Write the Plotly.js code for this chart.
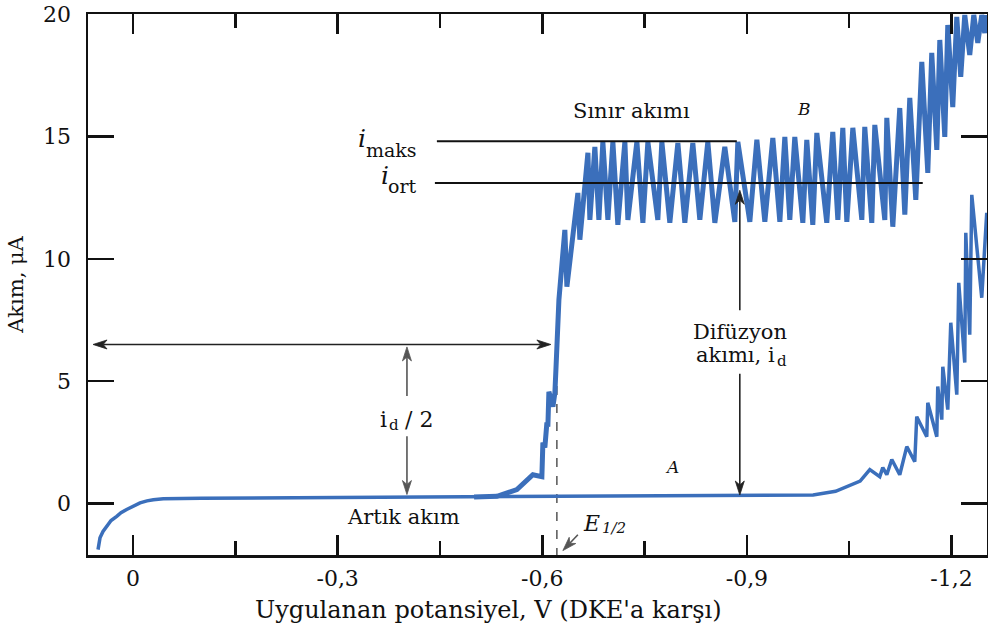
<!DOCTYPE html>
<html>
<head>
<meta charset="utf-8">
<script src="https://cdn.plot.ly/plotly-3.0.1.min.js"></script>
<style>html,body{margin:0;padding:0;background:#fff;}#chart{width:988px;height:636px;}</style>
</head>
<body>
<div id="chart"></div>
<script>
// Curve A: residual current (supporting electrolyte only)
const potA = [0.0513, 0.0503, 0.0484, 0.0440, 0.0386, 0.0322, 0.0239, 0.0176, 0.0093, 0, -0.0103, -0.0205, -0.0298, -0.0444,
  -0.1, -0.3, -0.5, -0.7, -0.9, -0.997, -1.03, -1.066,
  -1.0802, -1.0948, -1.0992, -1.1051, -1.1124, -1.1241, -1.1344, -1.1461, -1.1490, -1.1637, -1.1652, -1.1784, -1.1798, -1.1857, -1.1872,
  -1.1945, -1.1989, -1.2077, -1.2106, -1.2194, -1.2209, -1.2267, -1.2297, -1.2443, -1.2516];
const currA = [-1.88, -1.67, -1.40, -1.14, -0.93, -0.69, -0.52, -0.37, -0.24, -0.10, 0.03, 0.11, 0.16, 0.20,
  0.22, 0.25, 0.27, 0.3, 0.32, 0.35, 0.5, 0.92,
  1.39, 1.10, 1.47, 1.18, 1.80, 1.18, 2.33, 1.71, 3.55, 2.73, 4.12, 2.73, 4.78, 3.43, 5.59,
  3.84, 7.39, 4.45, 9.02, 5.76, 11.06, 6.90, 12.61, 8.41, 11.88];

// Curve B: polarographic wave with analyte
const potB = [-0.50, -0.5335, -0.5628, -0.5862, -0.5994, -0.6009, -0.6038, -0.6068, -0.6082, -0.6097,
  -0.6156, -0.6185, -0.6200, -0.6214, -0.6244, -0.6331, -0.6361, -0.6522, -0.6551, -0.6669,
  -0.6698, -0.6771, -0.6830, -0.6888, -0.6962, -0.7035, -0.7108, -0.7211, -0.7255, -0.7387,
  -0.7475, -0.7548, -0.7694, -0.7753, -0.7870, -0.7988, -0.8090, -0.8207, -0.8310, -0.8427,
  -0.8530, -0.8676, -0.8823, -0.8867, -0.9043, -0.9146, -0.9263, -0.9380, -0.9483, -0.9556,
  -0.9629, -0.9702, -0.9820, -0.9878, -0.9966, -1.0025, -1.0171, -1.0259, -1.0333, -1.0406,
  -1.0465, -1.0553, -1.0685, -1.0728, -1.0831, -1.0875, -1.1022, -1.1051, -1.1139, -1.1241,
  -1.1315, -1.1388, -1.1476, -1.1564, -1.1652, -1.1710, -1.1784, -1.1828, -1.1901, -1.1945,
  -1.2018, -1.2077, -1.2135, -1.2194, -1.2267, -1.2326, -1.2385, -1.2443, -1.2487, -1.2516];
const currB = [0.27, 0.30, 0.57, 1.18, 1.10, 2.49, 2.29, 3.31, 3.14, 4.57,
  3.96, 4.53, 5.47, 6.57, 8.33, 11.18, 8.86, 12.69, 10.78, 14.33,
  11.59, 14.57, 11.59, 14.78, 11.59, 14.78, 11.39, 14.78, 11.59, 14.78,
  11.47, 14.78, 11.59, 14.78, 11.47, 14.73, 11.47, 14.73, 11.59, 14.78,
  11.47, 14.57, 11.51, 14.78, 11.51, 14.86, 11.51, 14.94, 11.51, 14.98,
  11.59, 14.98, 11.47, 14.86, 11.39, 15.14, 11.47, 15.18, 11.59, 15.35,
  11.51, 15.35, 11.59, 15.39, 11.47, 15.47, 11.59, 15.76, 11.31, 16.16,
  11.80, 16.57, 12.41, 18.04, 13.51, 18.41, 14.45, 18.94, 14.98, 19.55,
  16.20, 19.88, 17.43, 19.96, 18.33, 19.96, 18.82, 19.96, 19.22, 19.96];

// Axis ticks
const xTickVals = [0, -0.3, -0.6, -0.9, -1.2];
const xTickText = ['0', '-0,3', '-0,6', '-0,9', '-1,2'];
const xMinorVals = [-0.15, -0.45, -0.75, -1.05];
const yTickVals = [0, 5, 10, 15, 20];
const yTickText = ['0', '5', '10', '15', '20'];

// Characteristic values
const iMaks = 14.8;
const iOrt = 13.1;
const halfId = 6.5;
const eHalf = -0.6214;

const FONT = 'DejaVu Serif, Liberation Serif, serif';
const BLUE = '#3b6fbb';
const INK = '#111111';

const W = 988, H = 636;
const M = {l: 88, r: 1, t: 14, b: 81};
const xRange = [0.066, -1.252];
const yRange = [-2.1, 20];
const PW = W - M.l - M.r, PH = H - M.t - M.b;

// data <-> pixel helpers (pixel y measured upward from plot bottom)
const toPx = (x, y) => [(x - xRange[0]) / (xRange[1] - xRange[0]) * PW, (y - yRange[0]) / (yRange[1] - yRange[0]) * PH];
const toData = (px, py) => [xRange[0] + px / PW * (xRange[1] - xRange[0]), yRange[0] + py / PH * (yRange[1] - yRange[0])];

function head(tip, from, color) {
  const [tx, ty] = toPx(tip[0], tip[1]);
  const [fx, fy] = toPx(from[0], from[1]);
  const len = Math.hypot(tx - fx, ty - fy);
  const dx = (tx - fx) / len, dy = (ty - fy) / len;
  const nx = -dy, ny = dx;
  const L = 14, w = 4.5;
  const bx = tx - dx * L, by = ty - dy * L;
  const cx = tx - dx * L * 0.72, cy = ty - dy * L * 0.72;
  const pts = [[tx, ty], [bx + nx * w, by + ny * w], [cx, cy], [bx - nx * w, by - ny * w]].map(p => toData(p[0], p[1]));
  const path = 'M' + pts.map(p => p[0].toFixed(5) + ',' + p[1].toFixed(4)).join(' L') + ' Z';
  return {shape: {type: 'path', xref: 'x', yref: 'y', path: path, fillcolor: color, line: {color: color, width: 0.8}},
          base: toData(cx, cy)};
}
function arrowShapes(from, to, color, both) {
  const out = [];
  const h1 = head(to, from, color);
  let start = from;
  if (both) { const h0 = head(from, to, color); out.push(h0.shape); start = h0.base; }
  out.push({type: 'line', xref: 'x', yref: 'y', x0: start[0], y0: start[1], x1: h1.base[0], y1: h1.base[1],
            line: {color: color, width: 1.6}});
  out.push(h1.shape);
  return out;
}

const traces = [
  {x: potA, y: currA, type: 'scatter', mode: 'lines', name: 'A',
   line: {color: BLUE, width: 3.5}, hoverinfo: 'x+y'},
  {x: potB, y: currB, type: 'scatter', mode: 'lines', name: 'B',
   line: {color: BLUE, width: 5}, hoverinfo: 'x+y'}
];

function label(x, y, text, size, extra) {
  return Object.assign({x: x, y: y, xref: 'x', yref: 'y', text: text, showarrow: false, borderpad: 0,
    font: {family: FONT, size: size, color: INK}, xanchor: 'center', yanchor: 'middle'}, extra || {});
}

const annotations = [
  // i_d / 2
  label(-0.4016, 3.45, 'i', 22, {xanchor: 'right', xshift: -19}),
  label(-0.4016, 3.45, 'd', 15, {xanchor: 'left', xshift: -19, yshift: -6}),
  label(-0.4016, 3.45, '/ 2', 22, {xanchor: 'left', xshift: -3}),
  // Difüzyon akımı, i_d
  label(-0.8896, 7.02, 'Difüzyon', 21),
  label(-0.8896, 6.05, 'akımı, i', 21, {xanchor: 'right', xshift: 36}),
  label(-0.8896, 6.05, 'd', 15, {xanchor: 'left', xshift: 36, yshift: -6}),
  label(-0.7313, 16.04, 'Sınır akımı', 21),
  label(-0.9834, 16.12, '<i>B</i>', 17),
  label(-0.79, 1.51, '<i>A</i>', 17),
  label(-0.397, -0.53, 'Artık akım', 21),
  // E 1/2
  label(-0.6859, -0.82, '<i>E</i>', 22, {xanchor: 'right'}),
  label(-0.6859, -0.98, '<i>1/2</i>', 15, {xanchor: 'left'}),
  // i maks / i ort
  label(-0.343, 14.9, '<i>i</i>', 25, {xanchor: 'right'}),
  label(-0.4177, 14.45, 'maks', 19, {xanchor: 'right'}),
  label(-0.3767, 13.42, '<i>i</i>', 25, {xanchor: 'right'}),
  label(-0.4177, 12.96, 'ort', 19, {xanchor: 'right'}),
  {x: 0.446, y: -0.1017, xref: 'paper', yref: 'paper', showarrow: false,
   text: "Uygulanan potansiyel, V (DKE'a karşı)", xanchor: 'center', yanchor: 'middle',
   font: {family: FONT, size: 24, color: INK}}
];

const shapes = [
  {type: 'line', xref: 'x', yref: 'y', x0: eHalf, x1: eHalf, y0: 4.8, y1: -2.1, layer: 'below',
   line: {color: '#555', width: 1.5, dash: 'dash'}},
  {type: 'line', xref: 'x', yref: 'y', x0: -0.4455, x1: -0.8852, y0: iMaks, y1: iMaks,
   line: {color: INK, width: 2}},
  {type: 'line', xref: 'x', yref: 'y', x0: -0.4426, x1: -1.1578, y0: iOrt, y1: iOrt,
   line: {color: INK, width: 2}}
].concat(
  arrowShapes([-0.6126, halfId], [0.0586, halfId], '#222', true),
  arrowShapes([-0.4016, 4.4], [-0.4016, 6.4], '#555', false),
  arrowShapes([-0.4016, 2.75], [-0.4016, 0.37], '#555', false),
  arrowShapes([-0.8896, 7.9], [-0.8896, 12.8], '#222', false),
  arrowShapes([-0.8896, 5.3], [-0.8896, 0.35], '#222', false),
  arrowShapes([-0.6522, -1.27], [-0.6302, -1.92], '#555', false)
);

const layout = {
  width: W, height: H,
  margin: M,
  paper_bgcolor: '#ffffff', plot_bgcolor: '#ffffff',
  showlegend: false,
  font: {family: FONT, color: INK},
  xaxis: {
    range: xRange, showgrid: false, zeroline: false,
    tickmode: 'array', tickvals: xTickVals, ticktext: xTickText,
    ticks: 'inside', ticklen: 20, tickwidth: 2.5, tickcolor: INK,
    minor: {tickmode: 'array', tickvals: xMinorVals, ticks: 'inside', ticklen: 14, tickwidth: 2.5, tickcolor: INK},
    showline: true, linewidth: 2.5, linecolor: INK, mirror: 'ticks',
    tickfont: {family: FONT, size: 22, color: INK}, ticklabelstandoff: 2
  },
  yaxis: {
    range: yRange, showgrid: false, zeroline: false,
    tickmode: 'array', tickvals: yTickVals, ticktext: yTickText,
    ticks: 'inside', ticklen: 26, tickwidth: 2.5, tickcolor: INK,
    showline: true, linewidth: 2.5, linecolor: INK, mirror: 'ticks',
    tickfont: {family: FONT, size: 22, color: INK}, ticklabelstandoff: 10,
    title: {text: 'Akım, μA', font: {family: FONT, size: 21, color: INK}, standoff: 14}
  },
  annotations: annotations,
  shapes: shapes
};

Plotly.newPlot('chart', traces, layout, {displayModeBar: false, staticPlot: true});
</script>
</body>
</html>
